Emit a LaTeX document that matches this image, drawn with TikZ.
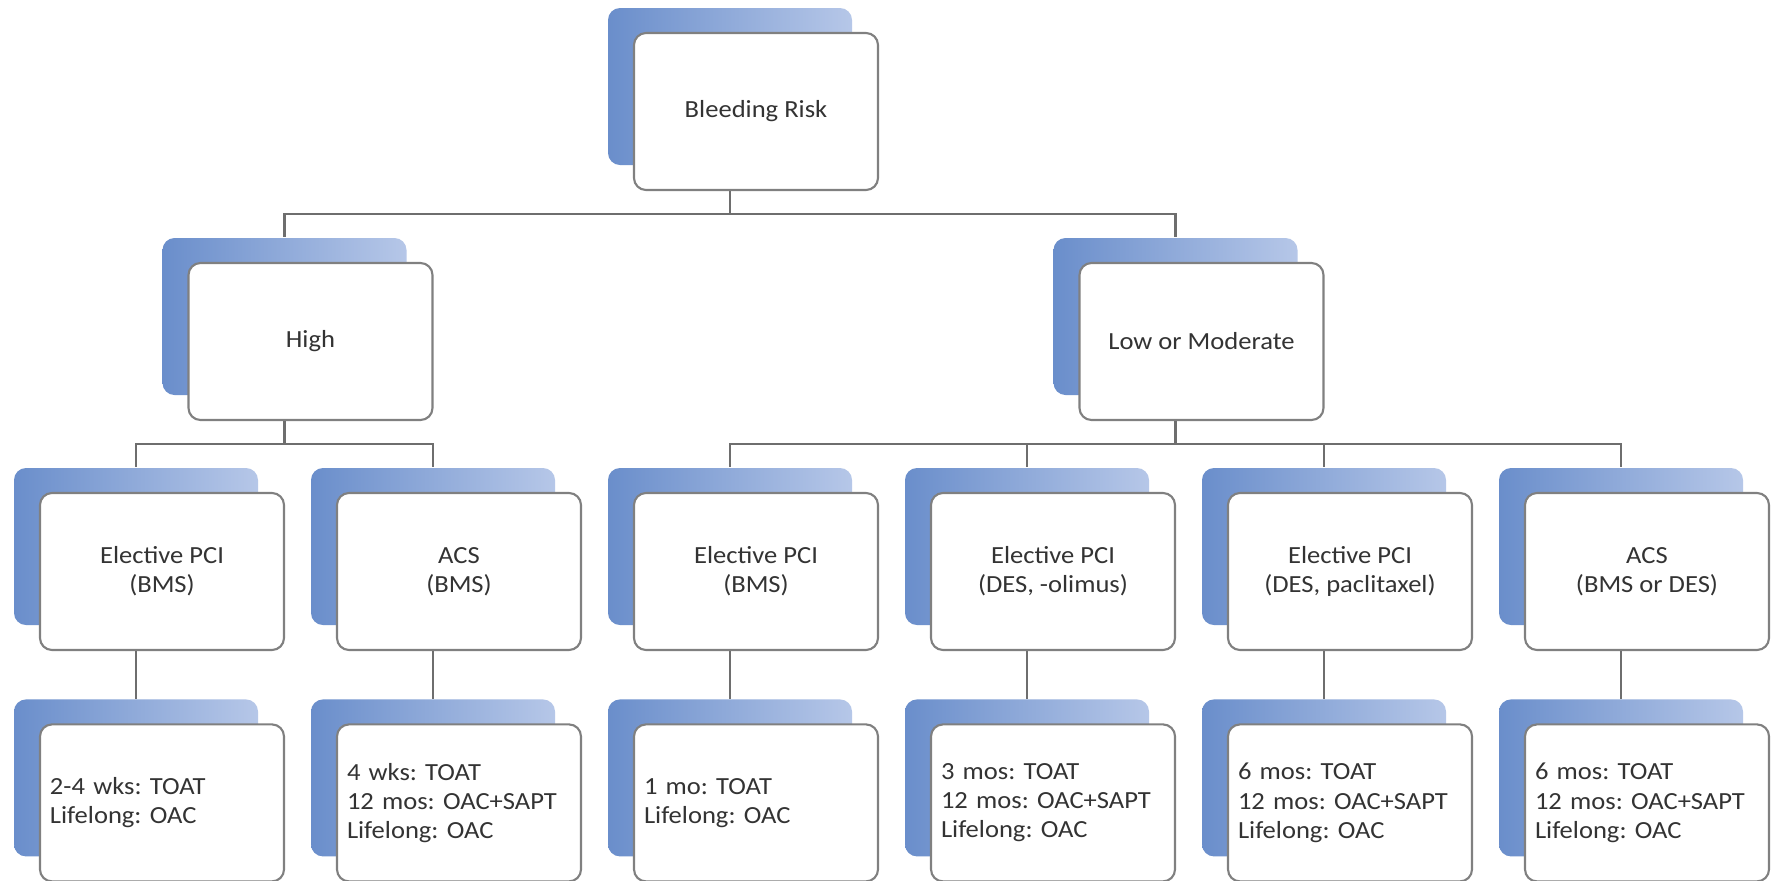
\documentclass[tikz,border=0pt]{standalone}
\usepackage{fontspec}
\setmainfont{Carlito}[FakeStretch=1.08]
\frenchspacing
\usetikzlibrary{positioning, calc}

\definecolor{bkdark}{HTML}{6A8ECB}
\definecolor{bklight}{HTML}{B6C7E8}
\definecolor{boxline}{HTML}{808080}
\definecolor{connline}{HTML}{6E6E6E}
\definecolor{txt}{HTML}{333333}

\begin{document}
\begin{tikzpicture}[
  % --- Style definitions ---
  backbox/.style={rounded corners=1.2mm, minimum width=2.44cm, minimum height=1.57cm,
                  inner sep=0pt, left color=bkdark, right color=bklight},
  frontbox/.style={draw=boxline, rounded corners=1.2mm, minimum width=2.44cm,
                   minimum height=1.57cm, fill=white, line width=0.6pt, align=center,
                   text=txt, font=\fontsize{7}{8.3}\selectfont, inner sep=0pt},
  frontleft/.style={frontbox, align=left, text width=2.24cm, inner xsep=0.1cm},
  conn/.style={draw=connline, line width=0.6pt},
]

% ===== Canvas =====
\fill[white] (0,0) rectangle (17.81,-8.80);
\useasboundingbox (0,0) rectangle (17.81,-8.80);

% ===== Level 1: root =====
\node[backbox] (root-b) at (7.30,-0.865) {};
\node[frontbox] (root) at ([shift={(0.26,-0.25)}]root-b) {Bleeding Risk};

% ===== Level 2: risk groups =====
\node[backbox] (high-b) at (2.845,-3.165) {};
\node[frontbox] (high) at ([shift={(0.26,-0.25)}]high-b) {High};
\node[backbox] (low-b) at (11.755,-3.165) {};
\node[frontbox] (low) at ([shift={(0.26,-0.25)}]low-b) {Low or Moderate};

% ===== Level 3: setting =====
\node[backbox] (c1-b) at (1.36,-5.465) {};
\node[frontbox] (c1) at ([shift={(0.26,-0.25)}]c1-b) {Elective PCI\\(BMS)};
\node[backbox] (c2-b) at (4.33,-5.465) {};
\node[frontbox] (c2) at ([shift={(0.26,-0.25)}]c2-b) {ACS\\(BMS)};
\node[backbox] (c3-b) at (7.30,-5.465) {};
\node[frontbox] (c3) at ([shift={(0.26,-0.25)}]c3-b) {Elective PCI\\(BMS)};
\node[backbox] (c4-b) at (10.27,-5.465) {};
\node[frontbox] (c4) at ([shift={(0.26,-0.25)}]c4-b) {Elective PCI\\(DES, -olimus)};
\node[backbox] (c5-b) at (13.24,-5.465) {};
\node[frontbox] (c5) at ([shift={(0.26,-0.25)}]c5-b) {Elective PCI\\(DES, paclitaxel)};
\node[backbox] (c6-b) at (16.21,-5.465) {};
\node[frontbox] (c6) at ([shift={(0.26,-0.25)}]c6-b) {ACS\\(BMS or DES)};

% ===== Level 4: regimens =====
\node[backbox, below=0.73cm of c1-b] (r1-b) {};
\node[frontleft] (r1) at ([shift={(0.26,-0.25)}]r1-b) {2-4 wks: TOAT\\Lifelong: OAC};
\node[backbox, below=0.73cm of c2-b] (r2-b) {};
\node[frontleft] (r2) at ([shift={(0.26,-0.25)}]r2-b) {4 wks: TOAT\\12 mos: OAC+SAPT\\Lifelong: OAC};
\node[backbox, below=0.73cm of c3-b] (r3-b) {};
\node[frontleft] (r3) at ([shift={(0.26,-0.25)}]r3-b) {1 mo: TOAT\\Lifelong: OAC};
\node[backbox, below=0.73cm of c4-b] (r4-b) {};
\node[frontleft] (r4) at ([shift={(0.26,-0.25)}]r4-b) {3 mos: TOAT\\12 mos: OAC+SAPT\\Lifelong: OAC};
\node[backbox, below=0.73cm of c5-b] (r5-b) {};
\node[frontleft] (r5) at ([shift={(0.26,-0.25)}]r5-b) {6 mos: TOAT\\12 mos: OAC+SAPT\\Lifelong: OAC};
\node[backbox, below=0.73cm of c6-b] (r6-b) {};
\node[frontleft] (r6) at ([shift={(0.26,-0.25)}]r6-b) {6 mos: TOAT\\12 mos: OAC+SAPT\\Lifelong: OAC};

% ===== Connectors =====

% Root to risk groups
\draw[conn] (root-b.center |- root.south) -- ++(0,-0.23) -| (high-b.north);
\draw[conn] (root-b.center |- root.south) -- ++(0,-0.23) -| (low-b.north);

% Risk groups to settings
\draw[conn] (high-b.center |- high.south) -- ++(0,-0.23) -| (c1-b.north);
\draw[conn] (high-b.center |- high.south) -- ++(0,-0.23) -| (c2-b.north);
\draw[conn] (low-b.center |- low.south) -- ++(0,-0.23) -| (c3-b.north);
\draw[conn] (low-b.center |- low.south) -- ++(0,-0.23) -| (c4-b.north);
\draw[conn] (low-b.center |- low.south) -- ++(0,-0.23) -| (c5-b.north);
\draw[conn] (low-b.center |- low.south) -- ++(0,-0.23) -| (c6-b.north);

% Settings to regimens
\draw[conn] (c1-b.center |- c1.south) -- (r1-b.north);
\draw[conn] (c2-b.center |- c2.south) -- (r2-b.north);
\draw[conn] (c3-b.center |- c3.south) -- (r3-b.north);
\draw[conn] (c4-b.center |- c4.south) -- (r4-b.north);
\draw[conn] (c5-b.center |- c5.south) -- (r5-b.north);
\draw[conn] (c6-b.center |- c6.south) -- (r6-b.north);

\end{tikzpicture}
\end{document}
